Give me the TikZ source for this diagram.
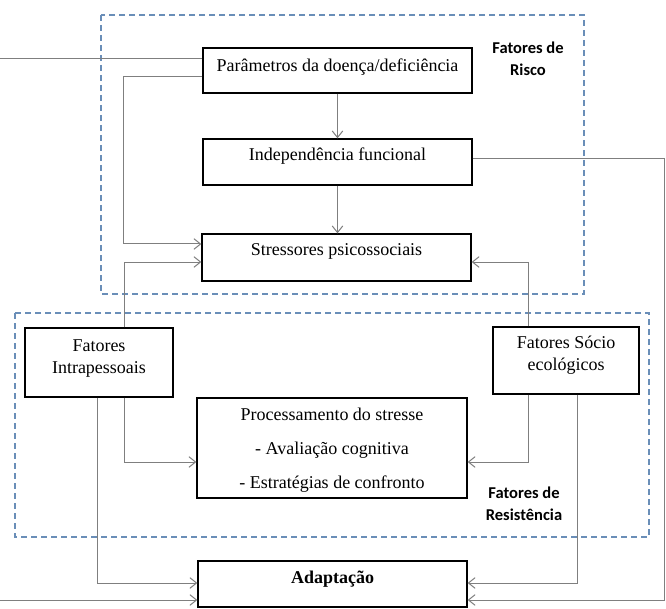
\documentclass[tikz,border=0pt]{standalone}
\usepackage{fontspec}
\setmainfont{Liberation Serif}
\newfontfamily\calibri{Carlito}
\usetikzlibrary{calc,arrows.meta}
\definecolor{zoneblue}{HTML}{6A8EB8}
\definecolor{linegray}{HTML}{7F7F7F}

\begin{document}
\begin{tikzpicture}[
		x=0.75pt,y=-0.75pt,
		box/.style={
			draw,
			line width=1pt,
			align=center,
			inner sep=0pt,
			text height=10pt,
			font=\rmfamily\fontsize{13.5}{16.5}\selectfont
		},
		zone/.style={
			draw=zoneblue,
			line width=1.1pt,
			dash pattern=on 4.5pt off 3pt
		},
		link/.style={
			draw=linegray,
			line width=0.75pt,
			-{Straight Barb[length=5pt,width=8pt]}
		},
		tag/.style={
			font=\calibri\bfseries\fontsize{12.4}{16.5}\selectfont,
			align=center
		}
		]
		\useasboundingbox (0,0) rectangle (666,609);
		% Zones
		\draw[zone] (101,15) rectangle (584,294);
		\draw[zone] (15,313) rectangle (649,537);
		\node[tag] (risco) at (528,59) {Fatores de\\Risco};
		\node[tag] (resist) at (524,504) {Fatores de\\Resistência};
		% Boxes
		\node[box, minimum width=201.75pt, minimum height=33.75pt, text depth=8.8pt] (par) at (337.5,70.5) {Parâmetros da doença/deficiência};
		\node[box, minimum width=201.75pt, minimum height=34.5pt, text depth=12.5pt] (ind) at (337.5,162) {Independência funcional};
		\node[box, minimum width=201.75pt, minimum height=35.25pt, text depth=13.2pt] (str) at (336.5,257.5) {Stressores psicossociais};
		\node[box, minimum width=111pt, minimum height=51.75pt, text height=26.5pt, text depth=9.5pt] (intra) at (99,362.5) {Fatores\\Intrapessoais};
		\node[box, minimum width=109.5pt, minimum height=50.25pt, text height=26.5pt, text depth=11pt] (socio) at (566,360.5) {Fatores Sócio\\ecológicos};
		\node[box, minimum width=202.5pt, minimum height=75pt, text height=61pt, text depth=0pt, font=\rmfamily\fontsize{13.5}{25.5}\selectfont] (proc) at (332,448) {Processamento do stresse\\- Avaliação cognitiva\\- Estratégias de confronto};
		\node[box, minimum width=201.75pt, minimum height=34.5pt, text depth=11pt, font=\rmfamily\bfseries\fontsize{13.5}{16.5}\selectfont] (adapt) at (332.5,584) {Adaptação};
		% Risk chain
		\draw[link] (par.south) -- (par.south |- ind.north);
		\draw[link] (ind.south) -- (ind.south |- str.north);
		\draw[link] ($(par.west)+(0,6.5)$) -- ++(-79,0) |- ($(str.west)+(0,-13.5)$);
		% Risk -> Adaptacao
		\draw[link] ($(par.west)+(0,-11.5)$) -- ++(-210,0) |- ($(adapt.west)+(0,16)$);
		\draw[link] ($(ind.east)+(0,-3)$) -- ++(192,0) |- ($(adapt.east)+(0,16)$);
		% Resistance -> Stressores
		\draw[link] ($(intra.north)+(25,0)$) |- ($(str.west)+(0,4.5)$);
		\draw[link] ($(socio.north)+(-38,0)$) |- ($(str.east)+(0,4.5)$);
		% Resistance -> Processamento
		\draw[link] ($(intra.south)+(25,0)$) |- ($(proc.west)+(0,14)$);
		\draw[link] ($(socio.south)+(-38,0)$) |- ($(proc.east)+(0,14)$);
		% Resistance -> Adaptacao
		\draw[link] ($(intra.south)+(-2,0)$) |- ($(adapt.west)+(0,-1)$);
		\draw[link] ($(socio.south)+(11,0)$) |- ($(adapt.east)+(0,-1)$);
\end{tikzpicture}
\end{document}
